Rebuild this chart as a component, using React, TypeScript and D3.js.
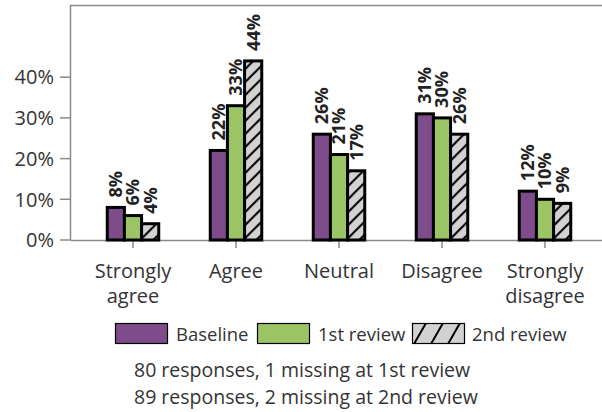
import React from "react";
import * as d3 from "d3";

const categories = ["Strongly agree", "Agree", "Neutral", "Disagree", "Strongly disagree"];
const categoryLines = [["Strongly", "agree"], ["Agree"], ["Neutral"], ["Disagree"], ["Strongly", "disagree"]];
const seriesNames = ["Baseline", "1st review", "2nd review"];
const baseline = [8, 22, 26, 31, 12];
const review1 = [6, 33, 21, 30, 10];
const review2 = [4, 44, 17, 26, 9];
const yTicks = [0, 10, 20, 30, 40];
const notes = ["80 responses, 1 missing at 1st review", "89 responses, 2 missing at 2nd review"];

const W = 602;
const H = 412;
const FONT = "'Open Sans', sans-serif";
const TEXT = "#333";
const AXIS = "#8a8a8a";
const fills = ["#7e4b8b", "#9bc564", "url(#hatch)"];
const legendFills = ["#7e4b8b", "#9bc564", "url(#hatchL)"];

export default function App() {
  const series = [baseline, review1, review2];
  const y = d3.scaleLinear().domain([0, 10]).range([240, 199.3]);
  const x0 = d3.scaleBand<string>().domain(categories).range([81.5, 596.5]).paddingInner(0.5).paddingOuter(0.25);
  const x1 = d3.scaleBand<string>().domain(seriesNames).range([0, x0.bandwidth()]);
  const plotLeft = 70.5;
  const plotTop = 5.5;
  const plotBottom = 240;

  return (
    <svg width={W} height={H} style={{ position: "absolute", left: 0, top: 0 }} fontFamily={FONT}>
      <defs>
        <pattern id="hatch" patternUnits="userSpaceOnUse" width="13" height="13">
          <rect width="13" height="13" fill="#d2d2d2" />
          <path d="M-1,14 L14,-1 M-4,4 L4,-4 M9,17 L17,9" stroke="#000" strokeWidth="2" />
        </pattern>
        <pattern id="hatchL" patternUnits="userSpaceOnUse" width="17" height="21" x="412" y="323">
          <rect width="17" height="21" fill="#d2d2d2" />
          <path d="M2,21 L14,0 M-15,21 L-3,0 M19,21 L31,0" stroke="#000" strokeWidth="2" />
        </pattern>
      </defs>
      {/* frame */}
      <path d={`M${plotLeft},${plotBottom} V${plotTop} H${W + 5}`} fill="none" stroke={AXIS} strokeWidth={1.5} />
      <line x1={plotLeft} x2={W + 5} y1={plotBottom + 0.5} y2={plotBottom + 0.5} stroke={AXIS} strokeWidth={1.5} />
      {/* y ticks */}
      {yTicks.map((t) => (
        <g key={t}>
          <line x1={60} x2={plotLeft} y1={y(t)} y2={y(t)} stroke={AXIS} strokeWidth={1.5} />
          <text x={54} y={y(t)} dy="0.36em" textAnchor="end" fontSize={20} fill={TEXT}>
            {t}%
          </text>
        </g>
      ))}
      {/* x ticks & labels */}
      {categories.map((c, i) => {
        const cx = (x0(c) as number) + x0.bandwidth() / 2;
        return (
          <g key={c}>
            <line x1={cx} x2={cx} y1={plotBottom} y2={plotBottom + 8} stroke={AXIS} strokeWidth={1.5} />
            {categoryLines[i].map((ln, j) => (
              <text key={j} x={cx} y={277.5 + j * 25} textAnchor="middle" fontSize={20} fill={TEXT}>
                {ln}
              </text>
            ))}
          </g>
        );
      })}
      {/* bars */}
      {categories.map((c, i) => (
        <g key={c} transform={`translate(${x0(c)},0)`}>
          {series.map((s, k) => {
            const bx = x1(seriesNames[k]) as number;
            const bw = x1.bandwidth();
            const top = y(s[i]);
            return (
              <g key={k}>
                <rect x={bx} y={top} width={bw} height={plotBottom - top} fill={fills[k]} stroke="#000" strokeWidth={3} />
                <text
                  transform={`translate(${bx + bw / 2},${top - 10}) rotate(-90)`}
                  dy="0.36em"
                  fontSize={18}
                  fontWeight="bold"
                  fill="#222"
                >
                  {s[i]}%
                </text>
              </g>
            );
          })}
        </g>
      ))}
      {/* legend */}
      {[
        { x: 115, tx: 176 },
        { x: 257, tx: 318 },
        { x: 412, tx: 472 },
      ].map((p, k) => (
        <g key={k}>
          <rect x={p.x + 0.5} y={323.5} width={52} height={20} fill={legendFills[k]} stroke="#000" strokeWidth={1.2} />
          <text x={p.tx} y={341} fontSize={18.5} fill={TEXT}>
            {seriesNames[k]}
          </text>
        </g>
      ))}
      {notes.map((n, j) => (
        <text key={j} x={134} y={377 + j * 27} fontSize={19.5} fill={TEXT}>
          {n}
        </text>
      ))}
    </svg>
  );
}
